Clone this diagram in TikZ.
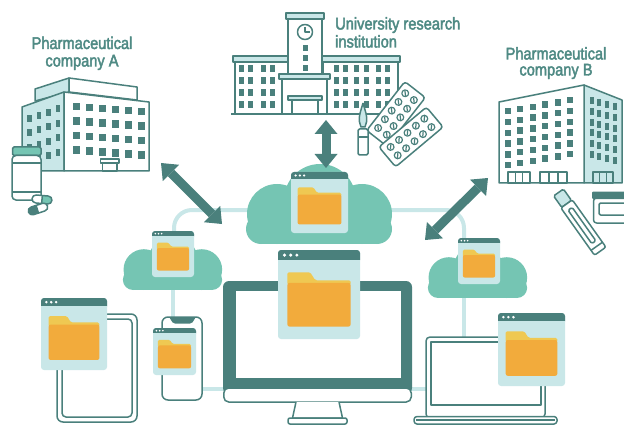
\documentclass[tikz,border=0pt]{standalone}
\usepackage{fontspec}
\setmainfont{Liberation Sans}[FakeStretch=0.86,FakeBold=2.5]
\usetikzlibrary{arrows.meta}
\definecolor{dteal}{HTML}{4A807C}
\definecolor{cloudc}{HTML}{75C5B3}
\definecolor{paleb}{HTML}{C9E7E8}
\definecolor{fold}{HTML}{F2AB3C}
\definecolor{tabc}{HTML}{EFC852}
\definecolor{txt}{HTML}{4F8A84}

% file window with a folder: x, y, width, height
\newcommand{\fwin}[4]{%
  \begin{scope}[shift={(#1,#2)}]
    \fill[paleb,rounded corners=3pt] (0,0) rectangle (#3,#4);
    \fill[dteal,rounded corners=3pt] (0,0) rectangle (#3,{0.115*#4+3});
    \fill[paleb] (0,{0.115*#4}) rectangle (#3,{0.115*#4+3.5});
    \foreach \d in {0.08,0.155,0.23}
      \fill[white] ({\d*#3},{0.0575*#4}) circle[radius={0.021*#3}];
    \fill[tabc,rounded corners=1.5pt] ({0.115*#3},{0.37*#4+2}) -- ({0.115*#3},{0.25*#4})
      -- ({0.392*#3},{0.25*#4}) -- ({0.454*#3},{0.34*#4}) -- ({0.885*#3},{0.34*#4})
      -- ({0.885*#3},{0.37*#4+2}) -- cycle;
    \fill[fold,rounded corners=2pt] ({0.115*#3},{0.37*#4}) rectangle ({0.885*#3},{0.86*#4});
  \end{scope}}

% cloud: centre x, bottom y, scale
\newcommand{\cloudat}[3]{%
  \begin{scope}[shift={(#1,#2)},scale=#3]
    \fill[cloudc] (-42,-30) circle[radius=30] (1,-44) circle[radius=36]
      (43,-30) circle[radius=30] (-58,-15) circle[radius=15] (58,-15) circle[radius=15];
    \fill[cloudc] (-58,-30) rectangle (58,0);
  \end{scope}}

% blister pack: centre x, centre y, angle
\newcommand{\blister}[3]{%
  \begin{scope}[shift={(#1,#2)},rotate=#3]
    \draw[bline,fill=white,rounded corners=3pt] (-31,-13) rectangle (31,13);
    \foreach \px in {-22,-11,0,11,22}
      \foreach \py in {-5.5,5.5} {
        \draw[bline,line width=1.2pt] (\px,\py) circle[radius=3.4];
        \draw[bline,line width=1.2pt] ({\px-1.8},{\py+1.8}) -- ({\px+1.8},{\py-1.8});
      }
  \end{scope}}

\begin{document}
\begin{tikzpicture}[x=1pt,y=-1pt,
  bline/.style={draw=dteal,line width=1.5pt,line join=round},
  link/.style={draw=paleb,line width=4pt},
  dbl/.style={draw=dteal,line width=9pt,
    {Triangle[width=23pt,length=14pt,line width=0pt]}-{Triangle[width=23pt,length=14pt,line width=0pt]}},
  label/.style={text=txt,font=\fontsize{17}{17}\selectfont,inner sep=0pt}]
\useasboundingbox (0,0) rectangle (624,425);

% ---------- links between clouds and devices ----------
\draw[link,rounded corners=18pt] (250,210) -- (174,210) -- (174,255);
\draw[link,rounded corners=18pt] (388,210) -- (464,210) -- (464,255);
\draw[link] (173,280) -- (173,318);
\draw[link] (201,389) -- (427,389);
\draw[link] (464,290) -- (464,338);

% ---------- clouds ----------
\cloudat{319}{244}{1}
\cloudat{172.5}{290}{0.68}
\cloudat{477.5}{298}{0.68}
\coordinate (cloudC) at (319,204);
\coordinate (cloudL) at (172,262);
\coordinate (cloudR) at (477,270);

% ---------- pharmaceutical company A ----------
\node[label,anchor=base] (labA1) at (82,49) {Pharmaceutical};
\node[label,anchor=base] (labA2) at (82,66.5) {company A};
\draw[bline,fill=paleb] (35,89) -- (69,78) -- (69,92) -- (35,101) -- cycle;
\draw[bline,fill=white] (69,78) -- (137,87) -- (137,100) -- (69,92) -- cycle;
\draw[bline,fill=paleb] (22,107) -- (64,92) -- (64,171) -- (22,171) -- cycle;
\draw[bline,fill=white] (64,92) -- (149,102) -- (149,171) -- (64,171) -- cycle;
\foreach \i in {0,...,5}
  \foreach \j in {0,...,3}
    \fill[dteal] ({73+\i*13},{103+\j*14.5+\i*1}) rectangle +(6.5,7.5);
\foreach \i in {0,...,3}
  \foreach \j in {0,...,3}
    \fill[dteal] ({27+\i*9.5},{115+\j*14.5-\i*3.2}) rectangle +(4.8,7);
\draw[bline,fill=white] (100.5,159) rectangle (119,163);
\draw[bline] (102.5,163) rectangle (117,171);
% bottle and capsules
\draw[bline,fill=cloudc,rounded corners=1.5pt] (12.5,147) rectangle (41,155.5);
\draw[bline,fill=white,rounded corners=4pt] (12,155.5) rectangle (41,200);
\draw[bline] (12,163) -- (41,163) (12,192) -- (41,192);
\begin{scope}[shift={(42,199.5)},rotate=-5]
  \fill[white,rounded corners=4pt] (-10,-4) rectangle (10,4);
  \begin{scope}
    \clip (0,-6) rectangle (12,6);
    \fill[cloudc,rounded corners=4pt] (-10,-4) rectangle (10,4);
  \end{scope}
  \draw[bline,rounded corners=4pt] (-10,-4) rectangle (10,4);
  \draw[bline] (0,-4) -- (0,4);
\end{scope}
\begin{scope}[shift={(38,209)},rotate=18]
  \fill[white,rounded corners=4pt] (-10,-4) rectangle (10,4);
  \begin{scope}
    \clip (-12,-6) rectangle (0,6);
    \fill[dteal,rounded corners=4pt] (-10,-4) rectangle (10,4);
  \end{scope}
  \draw[bline,rounded corners=4pt] (-10,-4) rectangle (10,4);
\end{scope}

% ---------- university research institution ----------
\node[label,anchor=base west] (labU1) at (335,29.5) {University research};
\node[label,anchor=base west] (labU2) at (335,47.5) {institution};
\draw[bline,fill=white] (235,62) rectangle (288,114);
\draw[bline,fill=white] (323,62) rectangle (398,114);
\draw[bline,fill=paleb] (233,56) rectangle (289,62);
\draw[bline,fill=paleb] (322,56) rectangle (400,62);
\draw[bline,fill=white] (288,19) rectangle (322,74);
\draw[bline,fill=paleb] (286,13) rectangle (324,19);
\draw[bline,fill=white] (305,32) circle[radius=7.5];
\draw[bline,line width=1.2pt] (305,27) -- (305,32) -- (309.5,32);
\foreach \y in {45,55,65}
  \fill[dteal] (302.5,\y) rectangle +(5.5,6);
\draw[bline,fill=white] (282,79) rectangle (327,114);
\draw[bline,fill=paleb] (279,74) rectangle (330,79);
\draw[bline,fill=paleb] (288,96) rectangle (322,100);
\draw[bline] (292,100) -- (292,114) (318,100) -- (318,114);
\foreach \x in {239.3,248.3,260.7,270}
  \foreach \y in {65,77,89,101}
    \fill[dteal] (\x,\y) rectangle +(5,7.5);
\foreach \x in {334,343,354,364,375.5,385}
  \foreach \y in {65,77,89,101}
    \fill[dteal] (\x,\y) rectangle +(5,7.5);
\draw[bline] (231,114) -- (401,114);
% blister packs and ampoule
\blister{396}{114}{52}
\blister{411}{137}{40}
\draw[bline,fill=paleb] (363,103) .. controls (360.5,112) and (358.5,116) .. (359.5,122)
  -- (361,127) -- (365,127) -- (366.5,122) .. controls (367.5,116) and (365.5,112) .. (363,103);
\draw[bline,fill=white,rounded corners=1.5pt] (358,129) rectangle (368,155);
\draw[bline] (358,137) -- (368,137);

% ---------- pharmaceutical company B ----------
\node[label,anchor=base] (labB1) at (556,59.5) {Pharmaceutical};
\node[label,anchor=base] (labB2) at (556,75.5) {company B};
\draw[bline,fill=paleb] (584,85) -- (622,100) -- (622,183) -- (584,183) -- cycle;
\draw[bline,fill=white] (499,102) -- (584,85) -- (584,183) -- (499,183) -- cycle;
\foreach \i in {0,...,5}
  \foreach \j in {0,...,5}
    \fill[dteal] ({505+\i*12.4},{108+\j*10.8-\i*2.2}) rectangle +(6,6.5);
\foreach \i in {0,...,3}
  \foreach \j in {0,...,5}
    \fill[dteal] ({589.5+\i*7.7},{97+\j*10.8+\i*2}) rectangle +(4,7);
\draw[bline] (508,172) rectangle (530,183) (515.3,172) -- (515.3,183) (522.7,172) -- (522.7,183);
\draw[bline] (540,172) rectangle (567,183) (549,172) -- (549,183) (558,172) -- (558,183);
\draw[bline] (593,172) rectangle (613,183) (599.7,172) -- (599.7,183) (606.3,172) -- (606.3,183);
% test tube and jar
\begin{scope}[shift={(558.5,192.5)},rotate=-54.6]
  \draw[bline,fill=paleb,rounded corners=1.5pt] (0,-6) rectangle (14,6);
  \draw[bline,fill=white,rounded corners=2pt] (14,-7) rectangle (72,7);
  \draw[bline,rounded corners=1.5pt] (20,-2.5) rectangle (61,2.5);
  \draw[bline] (66,-7) -- (66,7);
\end{scope}
\draw[bline,fill=white,rounded corners=3pt] (593.5,198) rectangle (632,223);
\draw[bline,rounded corners=1.5pt] (599,203) rectangle (632,215);
\fill[dteal,rounded corners=1pt] (592,191.5) rectangle (632,199);

% ---------- exchange arrows ----------
\coordinate (arA1) at (161,163);
\coordinate (arA2) at (222,224);
\coordinate (arU1) at (326,120);
\coordinate (arU2) at (326,168);
\coordinate (arB1) at (488,178);
\coordinate (arB2) at (425,240);
\draw[dbl] (arA1) -- (arA2);
\draw[dbl] (arU1) -- (arU2);
\draw[dbl] (arB1) -- (arB2);

% ---------- devices ----------
% monitor
\fill[dteal,rounded corners=6pt] (223,281) rectangle (412,394);
\draw[bline,fill=white,rounded corners=5pt] (223.75,388) rectangle (411.25,402);
\fill[dteal] (223,386) rectangle (412,388.5);
\fill[white] (236,291) rectangle (401,378);
\draw[bline,fill=white] (296,402) -- (292.5,418) -- (342.5,418) -- (339,402);
\draw[bline,fill=white,rounded corners=2pt] (288,418) rectangle (347,424);
% tablet
\draw[bline,fill=white,rounded corners=6pt] (57,314) rectangle (137,422);
\draw[bline,rounded corners=4pt] (62,319) rectangle (132,417);
% phone
\draw[bline,fill=white,rounded corners=6pt] (162,317) rectangle (202,400);
\fill[dteal] (168,317) .. controls (171,317) and (171,323.5) .. (175,323.5) -- (190,323.5)
  .. controls (194,323.5) and (194,317) .. (197,317) -- cycle;
% laptop
\draw[bline,fill=white,rounded corners=4pt] (426,337) rectangle (545,418);
\draw[bline] (431,342) rectangle (541,405);
\draw[bline,fill=white,rounded corners=3pt] (414,416.5) rectangle (557,424);
\draw[bline] (416,420) -- (555,420);

% ---------- file windows ----------
\fwin{291}{172}{57}{61}
\fwin{152}{231}{42}{46}
\fwin{458}{238}{42}{46}
\fwin{278}{250}{82}{89}
\fwin{41}{298}{66}{72}
\fwin{153}{328}{43}{47}
\fwin{498}{313}{67}{73}
\end{tikzpicture}
\end{document}
